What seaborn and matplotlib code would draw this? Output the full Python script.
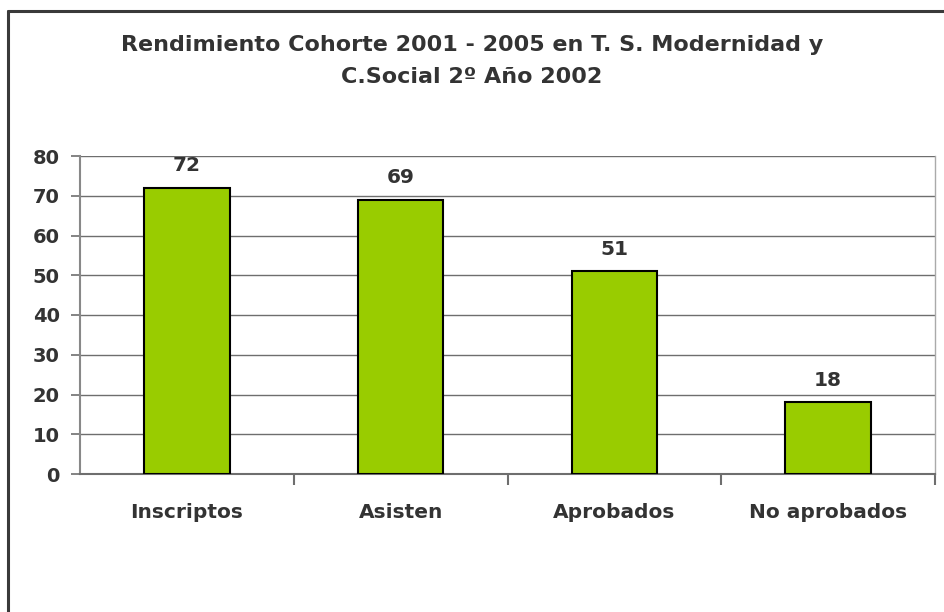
import matplotlib
matplotlib.use('Agg')
import matplotlib.pyplot as plt
import seaborn as sns
from matplotlib.lines import Line2D

categories = ['Inscriptos', 'Asisten', 'Aprobados', 'No aprobados']
values = [72, 69, 51, 18]
yticks = [0, 10, 20, 30, 40, 50, 60, 70, 80]

sns.set_style('white')
plt.rcParams['font.family'] = ['DejaVu Sans']
plt.rcParams['font.weight'] = 'bold'

text_color = '#333333'
grid_color = '#6e6e6e'

fig = plt.figure(figsize=(9.44, 6.12), dpi=100)
ax = fig.add_axes([80 / 944, (612 - 474) / 612, (935 - 80) / 944, (474 - 156) / 612])

sns.barplot(x=categories, y=values, hue=categories, palette=['#99CC00'] * 4,
            saturation=1, legend=False, width=0.4, edgecolor='black',
            linewidth=1.5, ax=ax, zorder=3)

ax.set_ylim(0, 80)
ax.set_xlim(-0.5, 3.5)
ax.set_yticks(yticks)
ax.set_yticklabels([str(t) for t in yticks], fontsize=14, fontweight='bold', color=text_color)
ax.yaxis.grid(True, color=grid_color, linewidth=1.0, zorder=0)
ax.set_axisbelow(True)

# category labels centred, ticks at category boundaries
ax.set_xticks([0.5, 1.5, 2.5, 3.5], minor=False)
ax.set_xticklabels([])
ax.set_xticks(range(len(categories)), minor=True)
ax.set_xticklabels(categories, minor=True, fontsize=14.5, fontweight='bold', color=text_color)
ax.tick_params(axis='x', which='major', length=8, width=1.5, color=grid_color, direction='out', bottom=True)
ax.tick_params(axis='x', which='minor', length=0, pad=21)
ax.tick_params(axis='y', length=6.5, width=1.2, color=grid_color, direction='out', left=True, pad=8)
ax.set_xlabel('')
ax.set_ylabel('')

for s in ['top', 'right']:
    ax.spines[s].set_visible(False)
ax.spines['left'].set_color('#888888')
ax.spines['left'].set_linewidth(1.5)
ax.spines['bottom'].set_color(grid_color)
ax.spines['bottom'].set_linewidth(1.5)
ax.spines['right'].set_visible(True)
ax.spines['right'].set_color('#aaaaaa')
ax.spines['right'].set_linewidth(1.0)

for i, v in enumerate(values):
    ax.annotate(str(v), xy=(i, v), xytext=(0, 9), textcoords='offset points',
                ha='center', va='bottom', fontsize=14.5, fontweight='bold',
                color=text_color, annotation_clip=False)

fig.text(0.5, 1 - 61 / 612, 'Rendimiento Cohorte 2001 - 2005 en T. S. Modernidad y\nC.Social 2º Año 2002',
         ha='center', va='center', fontsize=16, fontweight='bold', color=text_color,
         linespacing=1.7)

# chart border (top and left visible in the reference)
fig.add_artist(Line2D([7.5 / 944, 7.5 / 944], [0, 1 - 10.5 / 612], transform=fig.transFigure,
                      color='#3a3a3a', linewidth=2.2))
fig.add_artist(Line2D([7.5 / 944, 1], [1 - 10.5 / 612, 1 - 10.5 / 612], transform=fig.transFigure,
                      color='#3a3a3a', linewidth=2.2))

fig.savefig('out.png', dpi=100)
